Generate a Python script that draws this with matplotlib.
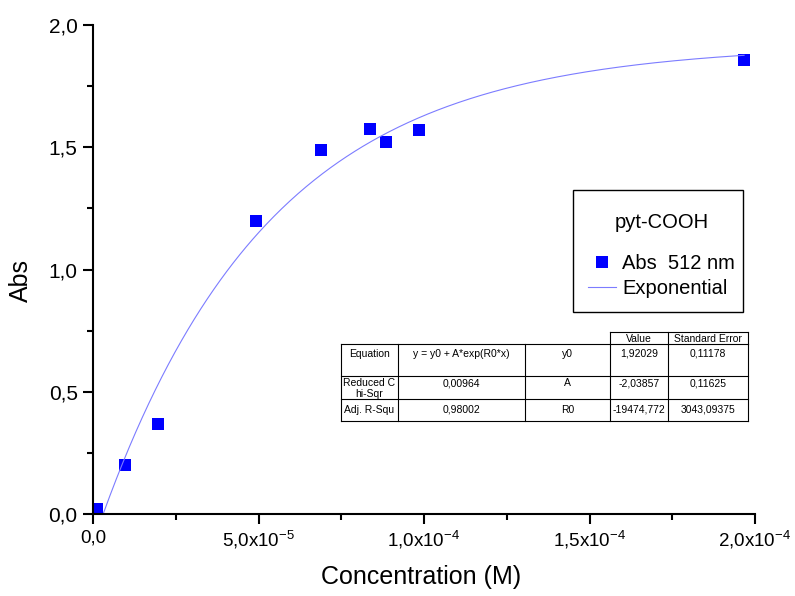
import matplotlib.pyplot as plt
from matplotlib.patches import Rectangle
import numpy as np

plt.rcParams['font.family'] = ['Liberation Sans', 'DejaVu Sans']
plt.rcParams['mathtext.fontset'] = 'custom'
plt.rcParams['mathtext.rm'] = 'Liberation Sans'
plt.rcParams['mathtext.default'] = 'regular'

# datos medidos
conc = [1.2e-6, 9.7e-6, 1.96e-5, 4.92e-5, 6.89e-5, 8.37e-5, 8.85e-5, 9.85e-5, 1.967e-4]
absorb = [0.02, 0.20, 0.37, 1.20, 1.49, 1.575, 1.52, 1.57, 1.855]

# parametros del ajuste y = y0 + A*exp(R0*x)
y0 = 1.92029
A = -2.03857
R0 = -19474.772

xticks = [0, 5e-5, 1e-4, 1.5e-4, 2e-4]
yticks = [0, 0.5, 1.0, 1.5, 2.0]

# tabla de resultados
tabla_header = ['', '', '', 'Value', 'Standard Error']
tabla_filas = [
    ['Equation', 'y = y0 + A*exp(R0*x)', 'y0', '1,92029', '0,11178'],
    ['Reduced C\nhi-Sqr', '0,00964', 'A', '-2,03857', '0,11625'],
    ['Adj. R-Squ', '0,98002', 'R0', '-19474,772', '3043,09375'],
]


def fmt_x(v):
    if v == 0:
        return '0,0'
    e = int(np.floor(np.log10(v)))
    m = v / 10 ** e
    return ('%.1f' % m).replace('.', ',') + 'x$10^{%d}$' % e


W, H = 795, 596


def fx(px):
    return px / W


def fy(py):
    return 1 - py / H


fig = plt.figure(figsize=(7.95, 5.96), dpi=100)
ax = fig.add_axes([93 / W, 1 - 514 / H, 662 / W, 489 / H])

xfit = np.linspace(min(conc), max(conc), 400)
yfit = y0 + A * np.exp(R0 * xfit)
mask = yfit >= 0
ax.plot(conc, absorb, 's', color='#0000ff', markersize=8.5, markeredgewidth=0,
        label='Abs  512 nm')
ax.plot(xfit[mask], yfit[mask], color='#7c7cff', linewidth=0.8, label='Exponential')

ax.set_xlim(0, 2e-4)
ax.set_ylim(0, 2.0)
ax.set_xticks(xticks)
ax.set_xticklabels([fmt_x(v) for v in xticks], fontsize=13.5)
ax.set_xticks([2.5e-5, 7.5e-5, 1.25e-4, 1.75e-4], minor=True)
ax.set_yticks(yticks)
ax.set_yticklabels([('%.1f' % v).replace('.', ',') for v in yticks], fontsize=15)
ax.set_yticks([0.25, 0.75, 1.25, 1.75], minor=True)
for s in ['top', 'right']:
    ax.spines[s].set_visible(False)
for s in ['left', 'bottom']:
    ax.spines[s].set_linewidth(1.5)
ax.tick_params(which='major', length=7, width=1.5, direction='out', pad=4)
ax.tick_params(which='minor', length=4, width=1.5, direction='out')
ax.set_xlabel('Concentration (M)', fontsize=18)
ax.set_ylabel('Abs', fontsize=18)
ax.xaxis.set_label_coords(0.495, (514 - 565) / 489)
ax.yaxis.set_label_coords((33 - 93) / 662, (514 - 280) / 489)
ax.patch.set_alpha(0)

# leyenda con marco dibujado aparte
leg = ax.legend(title='pyt-COOH', loc='upper left',
                bbox_to_anchor=(fx(588), fy(213)), bbox_transform=fig.transFigure,
                fontsize=14.5, title_fontsize=14.5, frameon=False,
                handlelength=1.4, handletextpad=0.3, borderpad=0, labelspacing=0.3,
                borderaxespad=0)
leg._legend_box.sep = 16
fig.add_artist(Rectangle((fx(573), fy(312)), fx(743) - fx(573), fy(190) - fy(312),
                         transform=fig.transFigure, fill=False, edgecolor='black',
                         linewidth=1.0))

# tabla dibujada a mano en pixeles
cols = [341, 398, 525, 610, 668, 748]
rows = [332, 344, 376, 399, 421]

lk = dict(color='black', linewidth=0.8, transform=fig.transFigure)
# cabecera
fig.add_artist(plt.Line2D([fx(cols[3]), fx(cols[5])], [fy(rows[0])] * 2, **lk))
for c in cols[3:]:
    fig.add_artist(plt.Line2D([fx(c)] * 2, [fy(rows[0]), fy(rows[1])], **lk))
for r in rows[1:]:
    fig.add_artist(plt.Line2D([fx(cols[0]), fx(cols[5])], [fy(r)] * 2, **lk))
for c in cols:
    fig.add_artist(plt.Line2D([fx(c)] * 2, [fy(rows[1]), fy(rows[4])], **lk))

for j, t in enumerate(tabla_header):
    if t:
        fig.text(fx((cols[j] + cols[j + 1]) / 2), fy(rows[0] + 6.5), t,
                 ha='center', va='center', fontsize=7.5)
ytext = [rows[1] + 10, rows[2] + 7, (rows[3] + rows[4]) / 2]
for i, fila in enumerate(tabla_filas):
    for j, t in enumerate(fila):
        va = 'center'
        yy = ytext[i]
        if '\n' in t:
            va = 'top'
            yy = rows[2] + 1.5
        fig.text(fx((cols[j] + cols[j + 1]) / 2), fy(yy), t,
                 ha='center', va=va, fontsize=7.5, linespacing=1.2)

fig.savefig('out.png', dpi=100)
